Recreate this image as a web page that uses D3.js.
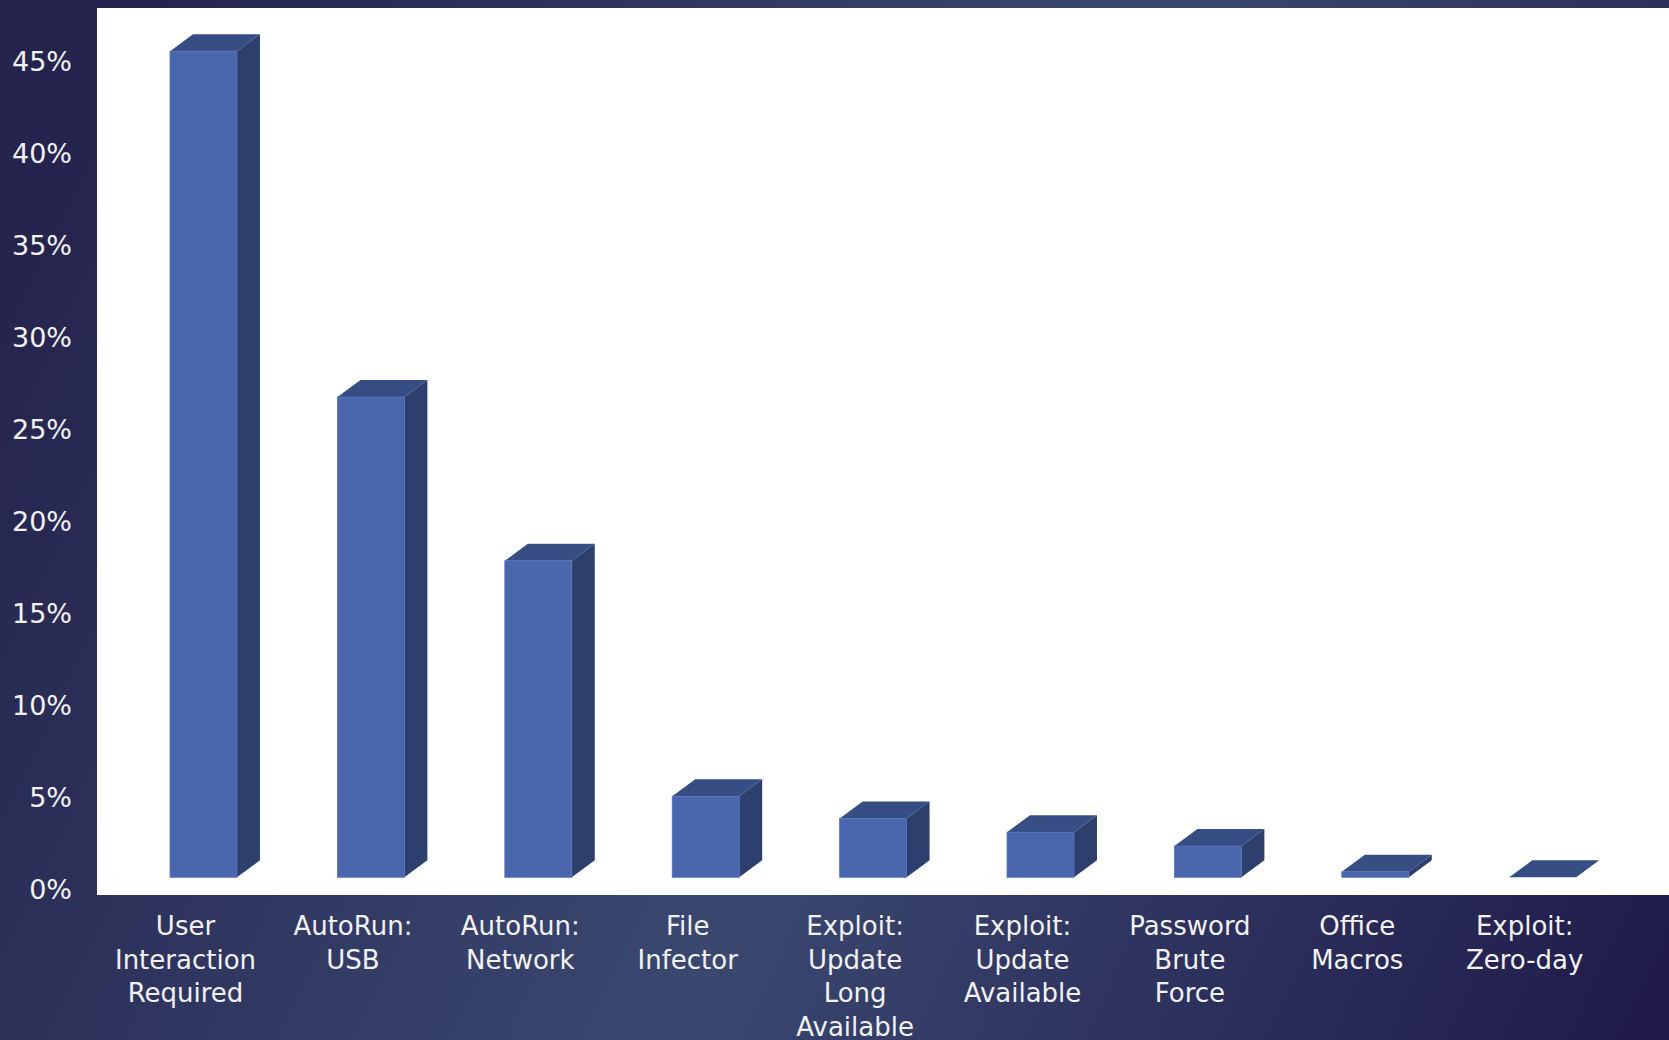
<!DOCTYPE html>
<html>
<head>
<meta charset="utf-8">
<script src="https://cdn.jsdelivr.net/npm/d3@7/dist/d3.min.js"></script>
<style>
  html, body { margin: 0; padding: 0; background: #26254f; }
  svg { display: block; }
</style>
</head>
<body>
<svg id="chart" width="1669" height="1040"></svg>
<script>
// ---- data ----
const categories = [
  "User Interaction Required",
  "AutoRun: USB",
  "AutoRun: Network",
  "File Infector",
  "Exploit: Update Long Available",
  "Exploit: Update Available",
  "Password Brute Force",
  "Office Macros",
  "Exploit: Zero-day"
];
const categoryLines = [
  ["User", "Interaction", "Required"],
  ["AutoRun:", "USB"],
  ["AutoRun:", "Network"],
  ["File", "Infector"],
  ["Exploit:", "Update", "Long", "Available"],
  ["Exploit:", "Update", "Available"],
  ["Password", "Brute", "Force"],
  ["Office", "Macros"],
  ["Exploit:", "Zero-day"]
];
const values = [0.449, 0.261, 0.172, 0.044, 0.032, 0.0245, 0.017, 0.003, 0.0];
const tickValues = [0, 0.05, 0.10, 0.15, 0.20, 0.25, 0.30, 0.35, 0.40, 0.45];

// ---- layout ----
const W = 1669, H = 1040;
const svg = d3.select("#chart");
const defs = svg.append("defs");
const grad = defs.append("linearGradient")
  .attr("id", "bg").attr("gradientUnits", "userSpaceOnUse")
  .attr("x1", 0).attr("y1", 300).attr("x2", 1669).attr("y2", 1100);
grad.append("stop").attr("offset", 0).attr("stop-color", "#25244e");
grad.append("stop").attr("offset", 0.5).attr("stop-color", "#3a4870");
grad.append("stop").attr("offset", 1).attr("stop-color", "#1e1848");

svg.append("rect").attr("width", W).attr("height", H).attr("fill", "url(#bg)");

// white plot area
svg.append("rect").attr("x", 97).attr("y", 8).attr("width", W - 97).attr("height", 887).attr("fill", "#ffffff");

const y = d3.scaleLinear().domain([0, 0.45]).range([877.3, 49.3]);
const x = d3.scaleBand().domain(categories).range([119.8, 1626.4]).paddingInner(0.6).paddingOuter(0.3);
const depthX = 23, depthY = 17;

// bars (3D)
const bars = svg.append("g").selectAll("g").data(categories).join("g");
bars.each(function(c, i) {
  const g = d3.select(this);
  const x0 = x(c), x1 = x0 + x.bandwidth();
  const yt = y(values[i]), yb = y(0);
  // side face
  g.append("path")
    .attr("d", `M${x1},${yt} L${x1 + depthX},${yt - depthY} L${x1 + depthX},${yb - depthY} L${x1},${yb} Z`)
    .attr("fill", "#2d3f6c");
  // top face
  g.append("path")
    .attr("d", `M${x0},${yt} L${x0 + depthX},${yt - depthY} L${x1 + depthX},${yt - depthY} L${x1},${yt} Z`)
    .attr("fill", "#374e85");
  // front face
  if (yb - yt > 0) {
    g.append("rect")
      .attr("x", x0).attr("y", yt).attr("width", x1 - x0).attr("height", yb - yt)
      .attr("fill", "#4a67ad").attr("stroke", "#5672b5").attr("stroke-width", 0.8);
  }
});

// y axis labels
const yAxis = d3.axisLeft(y).tickValues(tickValues).tickFormat(d3.format(".0%")).tickSize(0).tickPadding(0);
const ag = svg.append("g").attr("transform", "translate(72,13)").call(yAxis);
ag.select(".domain").remove();
ag.selectAll("text")
  .attr("fill", "#f2f2f2")
  .style("font-family", "'DejaVu Sans', sans-serif")
  .style("font-size", "27px");

// category labels
const lg = svg.append("g");
categories.forEach((c, i) => {
  const cx = x(c) + x.bandwidth() / 2 - 18;
  const t = lg.append("text")
    .attr("text-anchor", "middle")
    .attr("fill", "#f2f2f2")
    .style("font-family", "'DejaVu Sans', sans-serif")
    .style("font-size", "26px");
  categoryLines[i].forEach((ln, k) => {
    t.append("tspan").attr("x", cx).attr("y", 935 + k * 33.5).text(ln);
  });
});
</script>
</body>
</html>
